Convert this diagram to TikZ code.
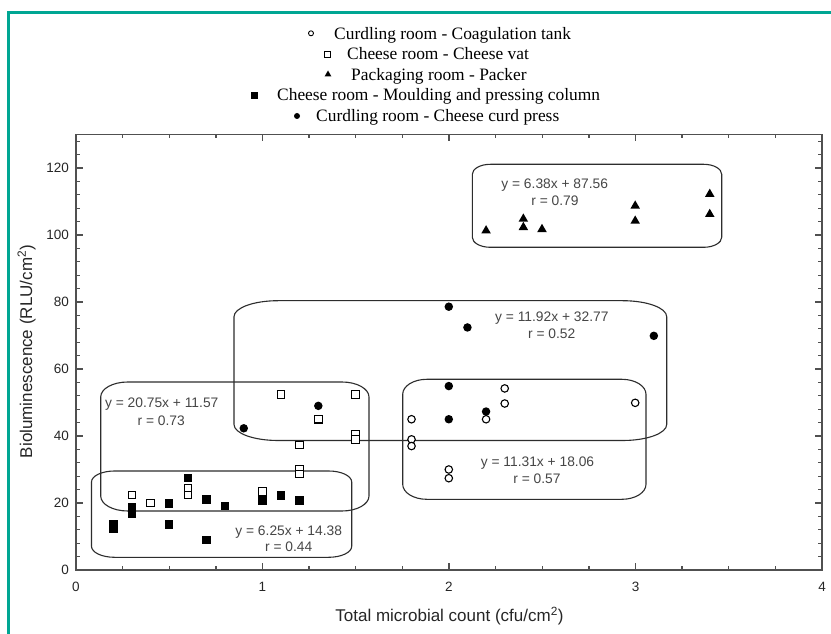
\documentclass[tikz,border=0pt]{standalone}
\usepackage{fontspec}
\setmainfont{Liberation Serif}
\setsansfont{Liberation Sans}
\usetikzlibrary{shapes.geometric}
\definecolor{frameteal}{RGB}{0,166,147}
\definecolor{axisgray}{RGB}{80,80,80}
\definecolor{textgray}{RGB}{70,70,70}
\definecolor{boxgray}{RGB}{45,45,45}
\newcommand\envbox[6]{% left bottom right top rx ry
  \draw[boxline] (#1,#4-#6) arc[start angle=180,end angle=90,x radius=#5,y radius=#6]
    -- (#3-#5,#4) arc[start angle=90,end angle=0,x radius=#5,y radius=#6]
    -- (#3,#2+#6) arc[start angle=0,end angle=-90,x radius=#5,y radius=#6]
    -- (#1+#5,#2) arc[start angle=270,end angle=180,x radius=#5,y radius=#6] -- cycle;}
\tikzset{
  boxline/.style={draw=boxgray,line width=1.1pt},
  axisline/.style={draw=axisgray,line width=1.3pt},
  ocirc/.style={circle,draw=black,fill=white,line width=1.1pt,inner sep=0pt,minimum size=7.5pt},
  fcirc/.style={circle,fill=black,inner sep=0pt,minimum size=8.5pt},
  osq/.style={rectangle,draw=black,fill=white,line width=1.1pt,inner sep=0pt,minimum size=7.5pt},
  fsq/.style={rectangle,fill=black,inner sep=0pt,minimum size=8.5pt},
  tri/.style={regular polygon,regular polygon sides=3,fill=black,inner sep=0pt,minimum size=11pt},
  lgocirc/.style={circle,draw=black,line width=0.9pt,inner sep=0pt,minimum size=5pt},
  lgfcirc/.style={circle,fill=black,inner sep=0pt,minimum size=6pt},
  lgosq/.style={rectangle,draw=black,line width=0.9pt,inner sep=0pt,minimum size=6pt},
  lgfsq/.style={rectangle,fill=black,inner sep=0pt,minimum size=7pt},
  lgtri/.style={regular polygon,regular polygon sides=3,fill=black,inner sep=0pt,minimum size=8pt},
  legtext/.style={anchor=base west,inner sep=0pt,font=\fontsize{17.4}{21}\selectfont},
  eqtext/.style={inner sep=0pt,text=textgray,font=\sffamily\fontsize{13.8}{16}\selectfont},
  ticklab/.style={inner sep=0pt,text=black!85,font=\sffamily\fontsize{13.5}{16}\selectfont},
  axlab/.style={inner sep=0pt,text=black!85,font=\sffamily\fontsize{17}{20}\selectfont},
}
\begin{document}
\begin{tikzpicture}[x=1pt,y=1pt]
\useasboundingbox[fill=white] (0,0) rectangle (831,633);
% frame
\draw[frameteal,line width=3pt] (834,620.5) -- (8,620.5) -- (8,-3);

% legend
\node[lgocirc] (lg1) at (311,599.7) {};
\node[legtext] (lt1) at (334,593.5) {Curdling room - Coagulation tank};
\node[lgosq] (lg2) at (327,579) {};
\node[legtext] (lt2) at (347,573) {Cheese room - Cheese vat};
\node[lgtri] (lg3) at (328,558.5) {};
\node[legtext] (lt3) at (351,552.5) {Packaging room - Packer};
\node[lgfsq] (lg4) at (254,537.3) {};
\node[legtext] (lt4) at (277,532) {Cheese room - Moulding and pressing column};
\node[lgfcirc] (lg5) at (297,517) {};
\node[legtext] (lt5) at (316,511.5) {Curdling room - Cheese curd press};

% axes frame
\draw[axisline] (76,63) rectangle (822,498.5);
\foreach \k in {1,...,15}
  \draw[axisline] ({76+46.625*\k},63) -- ++(0,4) ({76+46.625*\k},498.5) -- ++(0,-4);
\foreach \k in {1,2,3}
  \draw[axisline] ({76+186.5*\k},63) -- ++(0,7) ({76+186.5*\k},498.5) -- ++(0,-7);
\foreach \k in {1,...,32}
  \draw[axisline] (76,{63+13.4*\k}) -- ++(4,0) (822,{63+13.4*\k}) -- ++(-4,0);
\foreach \k in {5,10,...,30}
  \draw[axisline] (76,{63+13.4*\k}) -- ++(7,0) (822,{63+13.4*\k}) -- ++(-7,0);

% tick labels
\foreach \v [count=\i] in {0,20,40,60,80,100,120}
  \node[ticklab,anchor=east] (yl\i) at (69,{63+3.35*\v}) {\v};
\foreach \v [count=\i] in {0,1,2,3,4}
  \node[ticklab] (xl\i) at ({76+186.5*\v},46) {\v};

% axis labels
\node[axlab] (xlab) at (449.5,17) {Total microbial count (cfu/cm\textsuperscript{2})};
\node[axlab,rotate=90] (ylab) at (26.5,281.5) {Bioluminescence (RLU/cm\textsuperscript{2})};

% envelopes
\envbox{472.3}{385.7}{721.7}{468.7}{18}{10}
\envbox{234}{192.5}{666.7}{332.3}{44}{16}
\envbox{100.7}{122}{369}{251}{27}{15}
\envbox{91.5}{75.7}{351.7}{162}{23}{11}
\envbox{402.7}{133.7}{646}{253.7}{24}{15}

% equations
\node[eqtext] (eqA) at (554.7,448) {y = 6.38x + 87.56};
\node[eqtext] (rA) at (555,432) {r = 0.79};
\node[eqtext] (eqB) at (551.8,314.7) {y = 11.92x + 32.77};
\node[eqtext] (rB) at (551.7,299) {r = 0.52};
\node[eqtext] (eqC) at (161.7,228.7) {y = 20.75x + 11.57};
\node[eqtext] (rC) at (161.2,212.3) {r = 0.73};
\node[eqtext] (eqD) at (288.7,101.3) {y = 6.25x + 14.38};
\node[eqtext] (rD) at (288.7,86.3) {r = 0.44};
\node[eqtext] (eqE) at (537.5,170.3) {y = 11.31x + 18.06};
\node[eqtext] (rE) at (537,154.7) {r = 0.57};

% data
\begin{scope}[shift={(76pt,63pt)},x=186.4pt,y=3.35pt]
\foreach \px/\py [count=\i] in {1.8/45,1.8/39,1.8/37,2.0/30,2.0/27.4,2.2/45,2.3/54.2,2.3/49.7,3.0/49.9}
  \node[ocirc] (oc\i) at (\px,\py) {};
\foreach \px/\py [count=\i] in {0.3/22.4,0.4/20,0.6/24.4,0.6/22.4,1.0/23.4,1.1/52.4,1.2/37.3,1.2/30,1.2/28.6,1.3/45,1.5/52.4,1.5/40.6,1.5/39}
  \node[osq] (os\i) at (\px,\py) {};
\foreach \px/\py [count=\i] in {2.2/101.3,2.4/104.8,2.4/102.3,2.5/101.7,3.0/108.7,3.0/104.2,3.4/112.2,3.4/106.2}
  \node[tri] (tr\i) at (\px,\py) {};
\foreach \px/\py [count=\i] in {0.2/13.7,0.2/12.4,0.3/18.7,0.3/16.9,0.5/19.9,0.5/13.6,0.6/27.4,0.7/21.1,0.7/9,0.8/19.1,1.0/20.7,1.1/22.2,1.2/20.7}
  \node[fsq] (fs\i) at (\px,\py) {};
\foreach \px/\py [count=\i] in {0.9/42.3,1.3/49,2.0/78.6,2.1/72.4,3.1/69.9,2.0/54.9,2.0/45,2.2/47.3}
  \node[fcirc] (fc\i) at (\px,\py) {};
\end{scope}
\end{tikzpicture}
\end{document}
